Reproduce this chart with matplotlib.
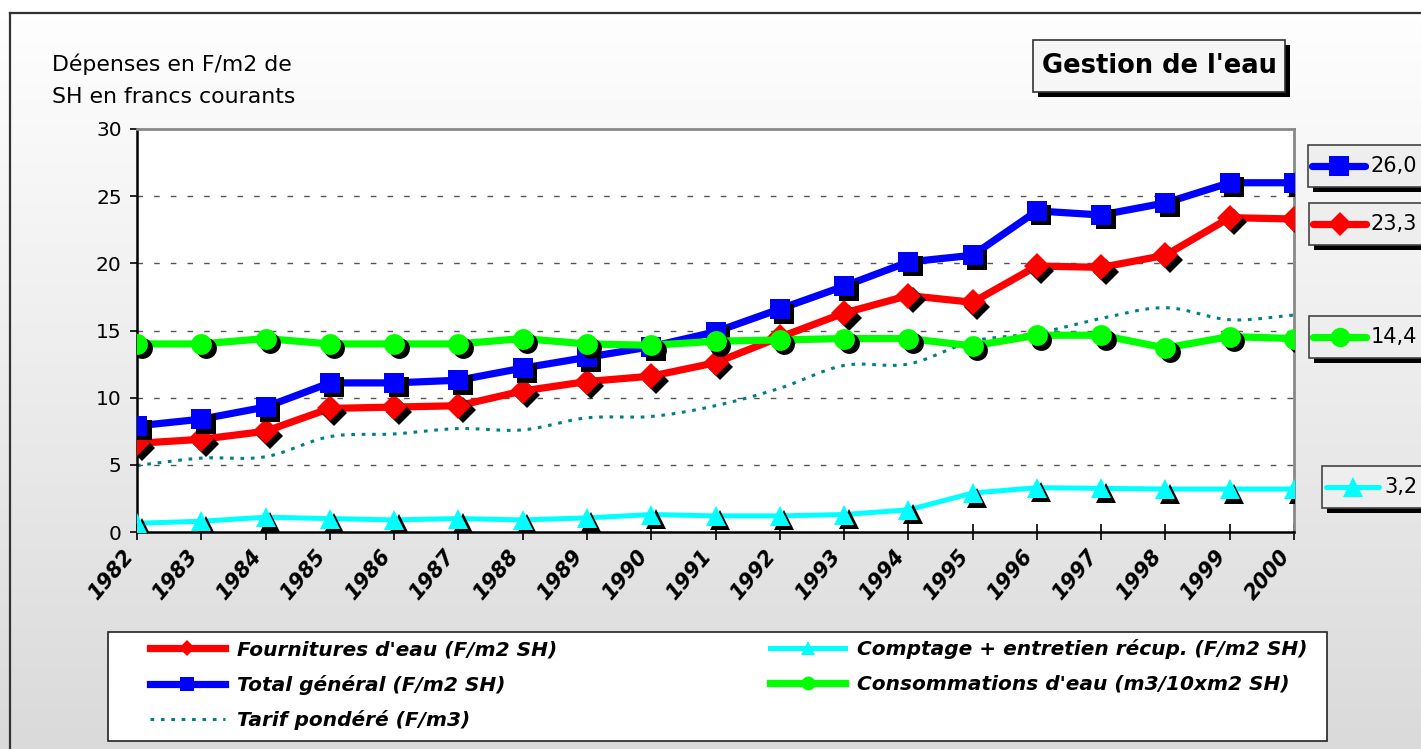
import numpy as np
import matplotlib
matplotlib.use("Agg")
import matplotlib.pyplot as plt
from matplotlib.patches import Rectangle
from matplotlib.lines import Line2D
import matplotlib.transforms as mtransforms

plt.rcParams['font.family'] = ['DejaVu Sans']

years = list(range(1982, 2001))
fournitures = [6.6, 6.9, 7.5, 9.2, 9.3, 9.4, 10.5, 11.2, 11.6, 12.6, 14.5, 16.3, 17.6, 17.1, 19.8, 19.7, 20.6, 23.4, 23.3]
total = [7.9, 8.4, 9.3, 11.1, 11.1, 11.3, 12.2, 13.0, 13.8, 14.9, 16.6, 18.3, 20.1, 20.6, 23.9, 23.6, 24.5, 26.0, 26.0]
comptage = [0.65, 0.8, 1.1, 1.0, 0.9, 1.0, 0.9, 1.05, 1.3, 1.2, 1.2, 1.3, 1.65, 2.9, 3.3, 3.25, 3.2, 3.2, 3.2]
consommations = [14.0, 14.0, 14.4, 14.0, 14.0, 14.0, 14.4, 14.0, 13.9, 14.2, 14.3, 14.4, 14.4, 13.85, 14.65, 14.65, 13.7, 14.55, 14.4]
tarif = [4.95, 5.5, 5.6, 7.1, 7.3, 7.7, 7.6, 8.5, 8.6, 9.4, 10.7, 12.4, 12.5, 14.2, 14.8, 15.9, 16.7, 15.8, 16.15]

W, H = 1421, 749
fig = plt.figure(figsize=(W / 100, H / 100), dpi=100)

# gradient background
bg = fig.add_axes([0, 0, 1, 1], zorder=0)
grad = np.linspace(1.0, 0.855, 256).reshape(-1, 1)
bg.imshow(np.dstack([grad, grad, grad]), aspect='auto', extent=[0, 1, 0, 1], origin='upper')
bg.add_patch(Rectangle((0, 1 - 13 / H), 1, 13 / H, color='white'))
bg.plot([10 / W, 1], [1 - 13 / H, 1 - 13 / H], color='#333333', lw=1.6)
bg.plot([10 / W, 10 / W], [0, 1 - 13 / H], color='#333333', lw=1.6)
bg.set_xlim(0, 1)
bg.set_ylim(0, 1)
bg.axis('off')

ax = fig.add_axes([137 / W, 1 - 532 / H, 1157 / W, 403 / H], zorder=1)
ax.set_facecolor('white')
x = np.array(years)

shadow = mtransforms.offset_copy(ax.transData, fig=fig, x=4.5, y=-4.5, units='dots')


def smooth(xs, ys, n=12):
    xs = np.asarray(xs, float)
    ys = np.asarray(ys, float)
    px = np.concatenate([[2 * xs[0] - xs[1]], xs, [2 * xs[-1] - xs[-2]]])
    py = np.concatenate([[2 * ys[0] - ys[1]], ys, [2 * ys[-1] - ys[-2]]])
    ox, oy = [], []
    t = np.linspace(0, 1, n, endpoint=False)
    for i in range(1, len(px) - 2):
        for arr, out in ((px, ox), (py, oy)):
            p0, p1, p2, p3 = arr[i - 1], arr[i], arr[i + 1], arr[i + 2]
            out.extend(0.5 * ((2 * p1) + (-p0 + p2) * t + (2 * p0 - 5 * p1 + 4 * p2 - p3) * t ** 2
                              + (-p0 + 3 * p1 - 3 * p2 + p3) * t ** 3))
    ox.append(xs[-1])
    oy.append(ys[-1])
    return np.array(ox), np.array(oy)


sx, sy = smooth(x, tarif)
ax.plot(sx, sy, color='#008080', lw=2.2, ls=(0, (1.2, 2.2)), zorder=2)

series = [
    (fournitures, 'red', 'D', 13, 5.2),
    (total, '#0000ff', 's', 15, 5.2),
    (comptage, '#00ffff', '^', 15, 3.6),
    (consommations, '#00ff00', 'o', 15, 5.2),
]
z = 3
for ys, col, mk, ms, lw in series:
    ax.plot(x, ys, color=col, lw=lw, zorder=z)
    ax.plot(x, ys, ls='none', marker=mk, ms=ms, color='black', mew=0, transform=shadow, zorder=z + 0.1)
    ax.plot(x, ys, ls='none', marker=mk, ms=ms, color=col, mew=0, zorder=z + 0.2)
    z += 1

ax.set_xlim(1982, 2000)
ax.set_ylim(0, 30)
ax.set_yticks(range(0, 31, 5))
ax.set_xticks(years)
ax.set_xticklabels([str(y) for y in years], rotation=50, ha='right', va='top',
                   fontsize=15, fontweight='bold', fontstyle='italic')
for lab in ax.get_yticklabels():
    lab.set_fontsize(14.5)
ax.tick_params(axis='y', direction='out', length=5, width=1.2, pad=6)
ax.tick_params(axis='x', direction='inout', length=12, width=1.2, pad=4)
for yv in range(5, 30, 5):
    ax.axhline(yv, color='#555555', lw=1.0, ls=(0, (4, 8)), zorder=1)
ax.spines['left'].set_color('black')
ax.spines['bottom'].set_color('black')
ax.spines['left'].set_linewidth(1.8)
ax.spines['bottom'].set_linewidth(1.8)
ax.spines['top'].set_color('#888888')
ax.spines['right'].set_color('#888888')
ax.spines['top'].set_linewidth(2)
ax.spines['right'].set_linewidth(2)

# overlay in pixel coordinates (top-down)
ov = fig.add_axes([0, 0, 1, 1], zorder=2)
ov.set_xlim(0, W)
ov.set_ylim(H, 0)
ov.axis('off')
ov.patch.set_alpha(0)

fig.text(52 / W, 1 - 64 / H, "Dépenses en F/m2 de", fontsize=15.8, va='center', ha='left')
fig.text(52 / W, 1 - 97 / H, "SH en francs courants", fontsize=15.8, va='center', ha='left')

# title box
ov.add_patch(Rectangle((1038, 45), 252, 52, facecolor='black', edgecolor='none', zorder=1))
ov.add_patch(Rectangle((1033, 40), 252, 52, facecolor='#f6f6f6', edgecolor='#333333', lw=1.2, zorder=2))
ov.text(1159, 66, "Gestion de l'eau", fontsize=18.5, fontweight='bold', ha='center', va='center', zorder=3)


def data_to_pix(v):
    return H - ax.transData.transform((2000, v))[1]


# value boxes at right
labels = [
    (total[-1], '#0000ff', 's', 14, 5.2, 1308, -17),
    (fournitures[-1], 'red', 'D', 12, 5.2, 1309, 5),
    (consommations[-1], '#00ff00', 'o', 14, 5.2, 1309, -2),
    (comptage[-1], '#00ffff', '^', 14, 3.6, 1322, -2),
]
for v, col, mk, ms, lw, left, off in labels:
    cy = data_to_pix(v) + off
    top = cy - 21
    ov.add_patch(Rectangle((left + 5, top + 5), W, 42, facecolor='black', edgecolor='none', zorder=1))
    ov.add_patch(Rectangle((left, top), W, 42, facecolor='#eeeeee', edgecolor='#444444', lw=1.2, zorder=2))
    ov.plot([left + 4, left + 57], [cy, cy], color=col, lw=lw, zorder=3, solid_capstyle='round')
    ov.plot([left + 31], [cy], marker=mk, ms=ms, color=col, mew=0, zorder=4)
    ov.text(left + 62, cy, ('%.1f' % v).replace('.', ','), fontsize=15, va='center', ha='left', zorder=4)

# legend frame + legend
ov.add_patch(Rectangle((108, 632), 1219, 109, facecolor='white', edgecolor='#222222', lw=1.2, zorder=1))
handles = [
    Line2D([], [], color='red', lw=5.2, marker='D', ms=8, mew=0),
    Line2D([], [], color='#0000ff', lw=5.2, marker='s', ms=10, mew=0),
    Line2D([], [], color='#008080', lw=2.2, ls=(0, (1.2, 2.2))),
    Line2D([], [], color='#00ffff', lw=3.6, marker='^', ms=10, mew=0),
    Line2D([], [], color='#00ff00', lw=5.2, marker='o', ms=10, mew=0),
]
names = [
    "Fournitures d'eau (F/m2 SH)",
    "Total général (F/m2 SH)",
    "Tarif pondéré (F/m3)",
    "Comptage + entretien récup. (F/m2 SH)",
    "Consommations d'eau (m3/10xm2 SH)",
]
leg = fig.legend(handles, names, ncol=2, loc='upper left',
                 bbox_to_anchor=(150 / W, 1 - 639 / H),
                 prop={'size': 14.5, 'weight': 'bold', 'style': 'italic'},
                 handlelength=3.7, numpoints=1, frameon=False,
                 labelspacing=0.78, borderpad=0, borderaxespad=0,
                 handletextpad=0.6, columnspacing=10.6)

fig.savefig('out.png', dpi=100)
